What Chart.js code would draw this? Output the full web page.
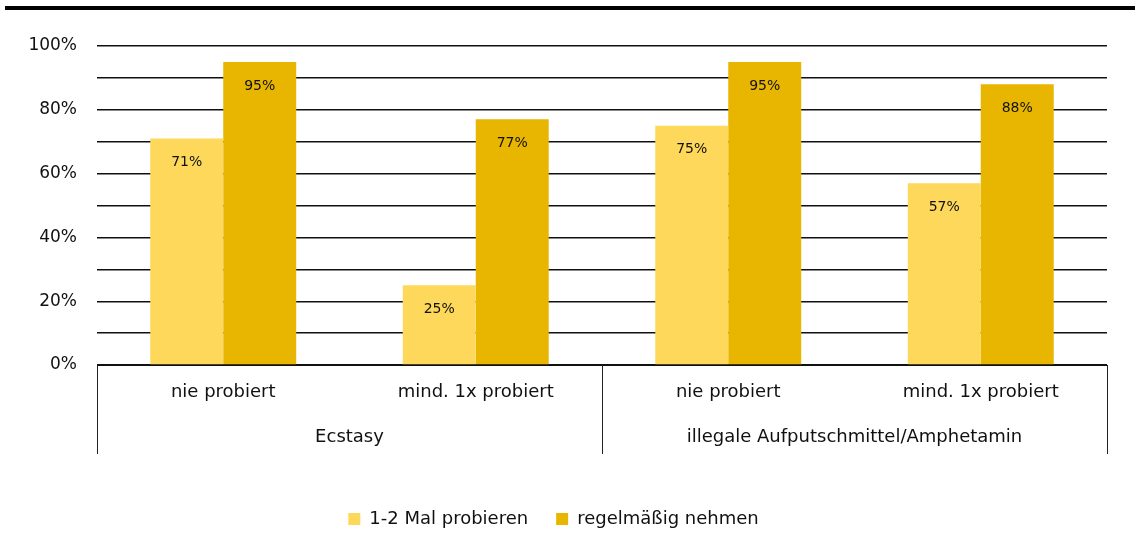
<!DOCTYPE html>
<html>
<head>
<meta charset="utf-8">
<script src="https://cdn.jsdelivr.net/npm/chart.js@4"></script>
<style>
  body { margin: 0; background: #fff; }
  #wrap { position: relative; width: 1135px; height: 556px; }
  #topline { position: absolute; left: 5px; right: 0; top: 6px; height: 4px; background: #000; }
</style>
</head>
<body>
<div id="wrap">
  <div id="topline"></div>
  <canvas id="chart" width="1135" height="556"></canvas>
</div>
<script>
// categories (sub labels) and the groups they belong to
let subLabels = ["nie probiert", "mind. 1x probiert", "nie probiert", "mind. 1x probiert"];
let groupLabels = ["Ecstasy", "illegale Aufputschmittel/Amphetamin"];
let groupSizes = [2, 2];

let seriesNames = ["1-2 Mal probieren", "regelmäßig nehmen"];
let probieren = [71, 25, 75, 57];
let regelmaessig = [95, 77, 95, 88];

let yTicks = [0, 20, 40, 60, 80, 100];

const FONT = "'DejaVu Sans', Verdana, sans-serif";

// vertical dividers + group names under the category axis
let groupAxis = {
    id: 'groupAxis',
    afterDraw(chart){
        let ctx = chart.ctx;
        let x = chart.scales.x;
        let top = x.top, bottom = x.top + 89;
        let edges = [x.left];
        let idx = 0;
        groupSizes.forEach(n => {
            idx += n;
            if(idx < subLabels.length){
                edges.push((x.getPixelForValue(idx - 1) + x.getPixelForValue(idx)) / 2);
            }
        });
        edges.push(x.right);
        ctx.save();
        ctx.strokeStyle = '#222';
        ctx.lineWidth = 1;
        edges.forEach(e => {
            let px = Math.round(e) + 0.5;
            ctx.beginPath();
            ctx.moveTo(px, top);
            ctx.lineTo(px, bottom);
            ctx.stroke();
        });
        ctx.fillStyle = '#111';
        ctx.font = '18px ' + FONT;
        ctx.textAlign = 'center';
        ctx.textBaseline = 'middle';
        groupLabels.forEach((g, i) => {
            ctx.fillText(g, (edges[i] + edges[i+1]) / 2, x.top + 72);
        });
        ctx.restore();
    }
};

// value labels inside the bars, near the top
let barValues = {
    id: 'barValues',
    afterDatasetsDraw(chart){
        let ctx = chart.ctx;
        ctx.save();
        ctx.fillStyle = '#111';
        ctx.font = '14px ' + FONT;
        ctx.textAlign = 'center';
        ctx.textBaseline = 'middle';
        chart.data.datasets.forEach((ds, di) => {
            chart.getDatasetMeta(di).data.forEach((bar, i) => {
                ctx.fillText(ds.data[i] + '%', bar.x, bar.y + 24);
            });
        });
        ctx.restore();
    }
};

let data2 = {
    labels: subLabels,
    datasets: [
        {
            label: seriesNames[0],
            data: probieren,
            backgroundColor: 'rgb(253, 216, 90)',
            borderWidth: 0
        },
        {
            label: seriesNames[1],
            data: regelmaessig,
            backgroundColor: 'rgb(232, 181, 0)',
            borderWidth: 0
        }
    ]
};

const config = {
    type: 'bar',
    data: data2,
    options: {
        responsive: false,
        animation: false,
        layout: { padding: { top: 46, left: 0, right: 28, bottom: 18 } },
        datasets: { bar: { categoryPercentage: 0.578, barPercentage: 1 } },
        scales: {
            x: {
                grid: { display: false, drawTicks: false },
                border: { display: true, color: '#111', width: 1 },
                ticks: { color: '#111', font: { family: FONT, size: 18 }, padding: 17, maxRotation: 0, autoSkip: false },
                afterFit(scale){ scale.height = 117; }
            },
            y: {
                min: 0,
                max: 100,
                grid: { color: '#111', lineWidth: 1.4, drawTicks: false },
                border: { display: false },
                ticks: {
                    stepSize: 10,
                    padding: 20,
                    color: '#111',
                    font: { family: FONT, size: 17 },
                    callback: v => yTicks.includes(v) ? v + '%' : ''
                },
                afterFit(scale){ scale.width = 97; }
            }
        },
        plugins: {
            tooltip: { enabled: false },
            legend: {
                position: 'bottom',
                labels: {
                    boxWidth: 12,
                    boxHeight: 12,
                    padding: 28,
                    color: '#111',
                    font: { family: FONT, size: 18 }
                }
            }
        }
    },
    plugins: [groupAxis, barValues]
};

let myChart = new Chart(document.querySelector('#chart'), config);
</script>
</body>
</html>
